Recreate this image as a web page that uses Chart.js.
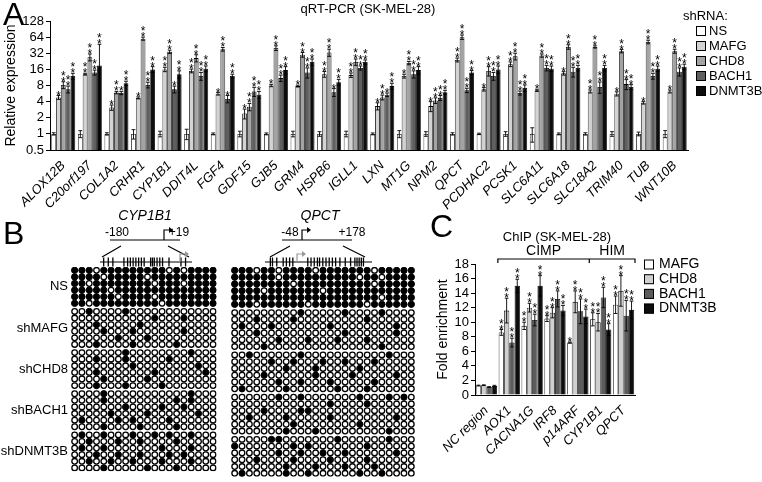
<!DOCTYPE html>
<html><head><meta charset="utf-8">
<script src="https://cdn.jsdelivr.net/npm/chart.js@4.4.1/dist/chart.umd.min.js"></script>
<style>
html,body{margin:0;padding:0;background:#fff;}
#wrap{position:relative;width:762px;height:482px;overflow:hidden;background:#fff;}
canvas{position:absolute;}
.pl{position:absolute;font-family:"Liberation Sans",Arial,sans-serif;font-size:32px;line-height:1;color:#000;}
</style></head><body>
<div id="wrap">
<canvas id="cA" style="left:0;top:0;" width="762" height="212"></canvas>
<canvas id="cB1" style="left:0;top:205px;" width="222" height="277"></canvas>
<canvas id="cB2" style="left:222px;top:205px;" width="200" height="277"></canvas>
<canvas id="cC" style="left:380px;top:205px;" width="382" height="277"></canvas>
<div class="pl" style="left:3px;top:-2px;">A</div>
<div class="pl" style="left:3px;top:217px;">B</div>
<div class="pl" style="left:430px;top:210px;">C</div>
</div>
<script>
const FONT = "'Liberation Sans', Arial, Helvetica, sans-serif";
Chart.defaults.font.family = FONT;
Chart.defaults.color = '#000';
Chart.defaults.animation = false;

// ---------- Panel A data ----------
const genes = ['ALOX12B','C20orf197','COL1A2','CRHR1','CYP1B1','DDIT4L','FGF4','GDF15','GJB5','GRM4','HSPB6','IGLL1','LXN','MT1G','NPM2','QPCT','PCDHAC2','PCSK1','SLC6A11','SLC6A18','SLC18A2','TRIM40','TUB','WNT10B'];
const seriesA = ['NS','MAFG','CHD8','BACH1','DNMT3B'];
const yTicksA = [0.5,1,2,4,8,16,32,64,128];
const nsExpr   = [1,1,1,1,1,1,1,1,1,1,1,1,1,1,1,1,1,1,1,1,1,1,1,1];
const nsErr    = [0.05,0.15,0.05,0.2,0.12,0.22,0.04,0.12,0.04,0.12,0.1,0.12,0.04,0.15,0.1,0.05,0.03,0.1,0.3,0.04,0.05,0.1,0.08,0.15];
const mafgExpr = [4.8,13,3.1,4.7,16,15,5.6,2.4,8,7.8,13,12.5,3.3,12,3.3,24,6.8,20,6.5,13.5,6.2,5.6,3.8,6.2];
const mafgErr  = [0.4,0.5,0.35,0.2,1.5,1.2,0.3,0.5,0.4,0.3,1.6,1.2,0.5,1,0.7,2,0.5,2,0.3,1,0.4,0.5,0.2,0.4];
const chd8Expr = [8.2,27,5.9,60,34,26,38,3.2,40,30,33,22,4.8,21,4.2,64,15,28,29,42,42,35,52,35];
const chd8Err  = [1.2,4,0.3,4,2.5,4,3,0.5,4,3,5,3,0.5,1.5,0.5,6,3,4,2,4,2,2.5,4,3];
const bach1Expr= [6.8,14,5.8,8.2,6.8,12,4.5,6.2,11,14,6,17,5.4,13,4.7,6.5,12,5.8,17,14.5,7.5,8.5,12,14.5];
const bach1Err = [1,1.5,0.4,1,1,2,0.7,1.2,1.5,3,1,1.5,0.4,2,0.5,0.6,2,0.5,2,3,1.8,1.8,1.5,2.5];
const dnmtExpr = [12,19,8.8,16,13,16.5,12,5.4,15.5,22,9.2,22,7.8,15.5,6,14,16,7.2,16.5,17,17,7.5,16.5,18];
const dnmtErr  = [1.5,28,0.8,2,2,2,1,0.8,2.5,3,1.2,2,1,2.5,0.5,1.2,2.5,1,2,2,2,0.8,2,2];
const nsStars   = [0,0,0,0,0,0,0,0,0,0,0,0,0,0,0,0,0,0,0,0,0,0,0,0];
const mafgStars = [1,2,1,1,2,2,1,1,1,1,2,2,1,1,1,2,1,2,1,1,2,1,1,1];
const chd8Stars = [2,2,2,2,2,2,2,2,2,2,2,2,2,2,2,2,2,2,2,2,2,2,2,2];
const bach1Stars= [2,2,1,2,1,2,1,2,2,2,1,2,1,2,2,2,2,2,2,2,2,2,2,2];
const dnmtStars = [2,2,2,2,2,2,2,2,2,2,2,2,2,2,2,2,2,2,2,2,2,2,2,2];

// ---------- Panel B data (bisulfite sequencing) ----------
const bGroups = ['NS','shMAFG','shCHD8','shBACH1','shDNMT3B'];
const cypCpGCount = 20, qpctCpGCount = 25;
// NS rows list UNmethylated CpG indices; sh rows list METHYLATED CpG indices
const cypNSUnmeth  = [[3,13,15],[4,10],[2,11,15],[5],[6,11],[2,12]];
const cypMAFGMeth  = [[2,7],[11,15],[3,9],[4,8,15],[6,10],[3,8,14]];
const cypCHD8Meth  = [[7,16],[3,7,13],[8,17],[3,11,18],[4,10],[3,7,12]];
const cypBACH1Meth = [[4,16],[4,14,16],[7,12,15],[5,10,17],[1,6,8,13],[4,9,14]];
const cypDNMTMeth  = [[1,4,8,11,13,16],[2,6,9,14],[1,4,12,16],[3,6,9,13,15],[2,5,8,12,16],[4,10,14]];
const qpctNSUnmeth  = [[3,6,11,19],[6,17,20],[8,19],[4,12],[20],[3,10,18]];
const qpctMAFGMeth  = [[9,15,20],[3,8,18],[1,5,13,22],[3,15,22],[6,10,14,18],[4,20]];
const qpctCHD8Meth  = [[2,9,21],[5,8,12,15,19],[7,11,17],[4,11,16,22],[6,9,13,19],[1,7,14,18]];
const qpctBACH1Meth = [[6,9,17,21,23],[13,18],[4,9,10],[2,7,13,22],[8,17],[7,11,21]];
const qpctDNMTMeth  = [[5,6,14,21],[0,8,10,18],[6,9,12,15,22],[3,8,13,18],[7,11,15,19],[1,7,10,17,20]];
const cypCpGPos  = [0.04,0.09,0.14,0.26,0.30,0.33,0.36,0.39,0.42,0.45,0.48,0.55,0.57,0.59,0.62,0.65,0.68,0.75,0.88,0.93];
const qpctCpGPos = [0.05,0.07,0.11,0.17,0.20,0.23,0.26,0.40,0.43,0.46,0.49,0.51,0.54,0.57,0.60,0.63,0.66,0.70,0.75,0.80,0.84,0.86,0.88,0.90,0.92];

// ---------- Panel C data ----------
const chipSites = ['NC region','AOX1','CACNA1G','IRF8','p14ARF','CYP1B1','QPCT'];
const seriesC = ['MAFG','CHD8','BACH1','DNMT3B'];
const chipMafg   = [1.3,8.6,9.5,10.5,7.2,10.4,12.4];
const chipMafgErr= [0.05,0.4,0.5,0.4,0.08,0.9,1.2];
const chipChd8   = [1.35,11.6,12,11.3,12.8,10,14.3];
const chipChd8Err= [0.05,1.7,0.6,0.7,1.5,1.2,2.1];
const chipBach1  = [1.1,7.2,10.3,13.2,11.5,13.4,10.9];
const chipBach1Err=[0.05,0.6,0.8,1.1,1.7,1.4,2.1];
const chipDnmt   = [1.25,15,15,11.6,10.8,9,11.7];
const chipDnmtErr= [0.08,0.9,1.4,0.7,1.0,0.8,1.2];
const chipMafgStars = [0,2,2,2,1,2,2];
const chipChd8Stars = [0,2,2,2,2,2,2];
const chipBach1Stars= [0,2,2,2,2,2,2];
const chipDnmtStars = [0,2,2,2,2,2,2];

// ---------- helpers ----------
function errPlugin(id, errs, stars, cfg) {
  return {
    id,
    afterDatasetsDraw(chart) {
      const ctx = chart.ctx, ys = chart.scales.y;
      ctx.save();
      ctx.strokeStyle = '#000'; ctx.lineWidth = cfg.lw;
      chart.data.datasets.forEach((ds, i) => {
        chart.getDatasetMeta(i).data.forEach((bar, j) => {
          const v = ds.data[j], e = errs[i][j];
          const yt = ys.getPixelForValue(v + e);
          const yb = ys.getPixelForValue(Math.max(v - e, ys.min));
          const cw = bar.width * cfg.cap;
          ctx.beginPath();
          ctx.moveTo(bar.x, yt); ctx.lineTo(bar.x, yb);
          ctx.moveTo(bar.x - cw/2, yt); ctx.lineTo(bar.x + cw/2, yt);
          ctx.moveTo(bar.x - cw/2, yb); ctx.lineTo(bar.x + cw/2, yb);
          ctx.stroke();
          const n = stars[i][j];
          ctx.fillStyle = '#000'; ctx.font = cfg.starFont; ctx.textAlign = 'center'; ctx.textBaseline = 'alphabetic';
          for (let k = 0; k < n; k++) ctx.fillText('*', bar.x, yt + cfg.starOff - k * cfg.starStep);
        });
      });
      ctx.restore();
    }
  };
}

// ---------- Chart A ----------
const colorsA = ['#ffffff','#d3d3d3','#a3a3a3','#5f5f5f','#0d0d0d'];
const valsA = [nsExpr, mafgExpr, chd8Expr, bach1Expr, dnmtExpr];
new Chart(document.getElementById('cA'), {
  type: 'bar',
  data: {
    labels: genes,
    datasets: seriesA.map((s, i) => ({
      label: s, data: valsA[i], backgroundColor: colorsA[i], borderColor: '#000', borderWidth: 0.8,
      categoryPercentage: 0.9, barPercentage: 1.0
    }))
  },
  options: {
    responsive: false, devicePixelRatio: 1, events: [],
    layout: { padding: { left: 3, top: 21, right: 74, bottom: 0 } },
    plugins: { legend: { display: false }, tooltip: { enabled: false } },
    scales: {
      x: {
        grid: { display: false }, border: { color: '#000', width: 1 },
        ticks: { autoSkip: false, maxRotation: 45, minRotation: 45, padding: 0, font: { size: 13, style: 'italic' } },
        afterFit: s => { s.height = 62; }
      },
      y: {
        type: 'logarithmic', min: 0.5, max: 128,
        afterBuildTicks: s => { s.ticks = yTicksA.map(v => ({ value: v })); },
        ticks: { autoSkip: false, callback: v => String(v), font: { size: 13 }, padding: 2 },
        grid: { drawOnChartArea: false, drawTicks: true, tickLength: 4, color: '#000' },
        border: { color: '#000', width: 1 },
        title: { display: true, text: 'Relative expression', font: { size: 14 }, padding: 0 },
        afterFit: s => { s.width = 47; }
      }
    }
  },
  plugins: [
    errPlugin('errA', [nsErr, mafgErr, chd8Err, bach1Err, dnmtErr], [nsStars, mafgStars, chd8Stars, bach1Stars, dnmtStars],
      { lw: 0.9, cap: 0.8, starFont: '12px ' + FONT, starOff: 4, starStep: 6 }),
    {
      id: 'decoA',
      afterDraw(chart) {
        const ctx = chart.ctx;
        ctx.save();
        ctx.fillStyle = '#000'; ctx.textBaseline = 'middle';
        ctx.font = '13px ' + FONT; ctx.textAlign = 'center';
        ctx.fillText('qRT-PCR (SK-MEL-28)', 368, 9);
        ctx.font = '13px ' + FONT; ctx.textAlign = 'left';
        ctx.fillText('shRNA:', 683, 16);
        chart.data.datasets.forEach((ds, i) => {
          const y = 31 + 15 * i;
          ctx.fillStyle = ds.backgroundColor; ctx.fillRect(696, y - 5, 10, 10);
          ctx.strokeStyle = '#000'; ctx.lineWidth = 1; ctx.strokeRect(696.5, y - 4.5, 9, 9);
          ctx.fillStyle = '#000'; ctx.fillText(ds.label, 709, y);
        });
        ctx.restore();
      }
    }
  ]
});

// ---------- Chart B ----------
const GROUP_STEP = 6.23;
function buildDots(nsUnmeth, shMeth, nCols) {
  const meth = [], unmeth = [];
  const groups = [nsUnmeth].concat(shMeth);
  groups.forEach((rows, g) => {
    rows.forEach((list, r) => {
      for (let c = 0; c < nCols; c++) {
        const isM = g === 0 ? !list.includes(c) : list.includes(c);
        (isM ? meth : unmeth).push({ x: c, y: g * GROUP_STEP + r });
      }
    });
  });
  return { meth, unmeth };
}
function schematicPlugin(cfg) {
  return {
    id: 'schem' + cfg.name,
    afterDraw(chart) {
      const ctx = chart.ctx;
      ctx.save();
      ctx.fillStyle = '#000'; ctx.strokeStyle = '#000';
      ctx.font = 'italic 14px ' + FONT; ctx.textAlign = 'center'; ctx.textBaseline = 'middle';
      ctx.fillText(cfg.name, cfg.nameX, 11);
      ctx.font = '12px ' + FONT;
      ctx.fillText(cfg.leftLbl, cfg.leftLblX, 28);
      ctx.fillText(cfg.rightLbl, cfg.rightLblX, 28);
      ctx.lineWidth = 1.2;
      ctx.beginPath();
      ctx.moveTo(cfg.lineL, 35); ctx.lineTo(cfg.lineR, 35);
      ctx.moveTo(cfg.arrowX, 35); ctx.lineTo(cfg.arrowX, 25); ctx.lineTo(cfg.arrowX + 6, 25);
      ctx.moveTo(cfg.diagL[0], 41); ctx.lineTo(cfg.diagL[1], 52);
      ctx.moveTo(cfg.diagR[0], 41); ctx.lineTo(cfg.diagR[1], 52);
      ctx.moveTo(cfg.cpgL, 57); ctx.lineTo(cfg.cpgR, 57);
      ctx.stroke();
      ctx.beginPath(); ctx.moveTo(cfg.arrowX + 9, 25); ctx.lineTo(cfg.arrowX + 5, 22); ctx.lineTo(cfg.arrowX + 5, 28); ctx.closePath(); ctx.fill();
      ctx.lineWidth = 1.3;
      ctx.beginPath();
      cfg.cpg.forEach(f => { const x = cfg.cpgL + f * (cfg.cpgR - cfg.cpgL); ctx.moveTo(x, 52.5); ctx.lineTo(x, 61.5); });
      ctx.stroke();
      ctx.strokeStyle = '#999'; ctx.fillStyle = '#999'; ctx.lineWidth = 1.2;
      ctx.beginPath(); ctx.moveTo(cfg.grayX, 57); ctx.lineTo(cfg.grayX, 49); ctx.lineTo(cfg.grayX + 6, 49); ctx.stroke();
      ctx.beginPath(); ctx.moveTo(cfg.grayX + 9, 49); ctx.lineTo(cfg.grayX + 5, 46); ctx.lineTo(cfg.grayX + 5, 52); ctx.closePath(); ctx.fill();
      ctx.restore();
    }
  };
}
function makeB(id, dots, nCols, showLabels, pad, schem) {
  new Chart(document.getElementById(id), {
    type: 'scatter',
    data: { datasets: [
      { data: dots.meth, pointRadius: 3.15, pointBackgroundColor: '#000', pointBorderColor: '#000', pointBorderWidth: 1 },
      { data: dots.unmeth, pointRadius: 2.8, pointBackgroundColor: '#fff', pointBorderColor: '#000', pointBorderWidth: 1.3 }
    ]},
    options: {
      responsive: false, devicePixelRatio: 1, events: [],
      layout: { padding: pad },
      plugins: { legend: { display: false }, tooltip: { enabled: false } },
      scales: {
        x: { type: 'linear', min: -0.5, max: nCols - 0.5, display: false },
        y: {
          type: 'linear', reverse: true, min: -0.5, max: 4 * GROUP_STEP + 5.5, display: showLabels,
          afterBuildTicks: s => { s.ticks = bGroups.map((g, i) => ({ value: i * GROUP_STEP + 2.5 })); },
          ticks: { autoSkip: false, callback: (v, i) => bGroups[i], font: { size: 13 }, padding: 3 },
          grid: { display: false, drawTicks: false }, border: { display: false },
          afterFit: s => { if (showLabels) s.width = 71; }
        }
      }
    },
    plugins: [schematicPlugin(schem)]
  });
}
makeB('cB1', buildDots(cypNSUnmeth, [cypMAFGMeth, cypCHD8Meth, cypBACH1Meth, cypDNMTMeth], cypCpGCount), cypCpGCount, true,
  { left: 0, top: 62, right: 3, bottom: 1 },
  { name: 'CYP1B1', nameX: 145, leftLbl: '-180', leftLblX: 117, rightLbl: '+19', rightLblX: 179, lineL: 110, lineR: 180, arrowX: 164,
    diagL: [121, 102], diagR: [168, 189], cpgL: 100, cpgR: 192, cpg: cypCpGPos, grayX: 180 });
makeB('cB2', buildDots(qpctNSUnmeth, [qpctMAFGMeth, qpctCHD8Meth, qpctBACH1Meth, qpctDNMTMeth], qpctCpGCount), qpctCpGCount, false,
  { left: 9, top: 62, right: 7, bottom: 1 },
  { name: 'QPCT', nameX: 98, leftLbl: '-48', leftLblX: 68, rightLbl: '+178', rightLblX: 130, lineL: 60, lineR: 130, arrowX: 80,
    diagL: [68, 48], diagR: [121, 143], cpgL: 43, cpgR: 150, cpg: qpctCpGPos, grayX: 75 });

// ---------- Chart C ----------
const colorsC = ['#ffffff','#cfcfcf','#5c5c5c','#0d0d0d'];
const valsC = [chipMafg, chipChd8, chipBach1, chipDnmt];
new Chart(document.getElementById('cC'), {
  type: 'bar',
  data: {
    labels: chipSites,
    datasets: seriesC.map((s, i) => ({
      label: s, data: valsC[i], backgroundColor: colorsC[i], borderColor: '#000', borderWidth: 0.8,
      categoryPercentage: 0.93, barPercentage: 1.0
    }))
  },
  options: {
    responsive: false, devicePixelRatio: 1, events: [],
    layout: { padding: { left: 55, top: 59, right: 127, bottom: 0 } },
    plugins: { legend: { display: false }, tooltip: { enabled: false } },
    scales: {
      x: {
        grid: { display: false }, border: { color: '#000', width: 1 },
        ticks: { autoSkip: false, maxRotation: 45, minRotation: 45, padding: 0, font: { size: 13, style: 'italic' } },
        afterFit: s => { s.height = 87; }
      },
      y: {
        min: 0, max: 18,
        ticks: { autoSkip: false, stepSize: 2, font: { size: 13 }, padding: 2 },
        grid: { drawOnChartArea: false, drawTicks: true, tickLength: 4, color: '#000' },
        border: { color: '#000', width: 1 },
        title: { display: true, text: 'Fold enrichment', font: { size: 14 }, padding: 0 },
        afterFit: s => { s.width = 40; }
      }
    }
  },
  plugins: [
    errPlugin('errC', [chipMafgErr, chipChd8Err, chipBach1Err, chipDnmtErr], [chipMafgStars, chipChd8Stars, chipBach1Stars, chipDnmtStars],
      { lw: 0.9, cap: 0.7, starFont: '12px ' + FONT, starOff: 4, starStep: 6 }),
    {
      id: 'decoC',
      afterDraw(chart) {
        const ctx = chart.ctx, ca = chart.chartArea;
        const cw = (ca.right - ca.left) / chipSites.length;
        const b0 = ca.left + cw * 1, b1 = ca.left + cw * 5, b2 = ca.right;
        ctx.save();
        ctx.strokeStyle = '#000'; ctx.lineWidth = 1.2;
        ctx.beginPath();
        ctx.moveTo(b0, ca.top - 1); ctx.lineTo(b0, ca.top - 5); ctx.lineTo(b2, ca.top - 5); ctx.lineTo(b2, ca.top - 1);
        ctx.moveTo(b1, ca.top - 5); ctx.lineTo(b1, ca.top - 1);
        ctx.stroke();
        ctx.fillStyle = '#000'; ctx.textAlign = 'center'; ctx.textBaseline = 'middle';
        ctx.font = '14px ' + FONT;
        ctx.fillText('CIMP', (b0 + b1) / 2, ca.top - 13);
        ctx.fillText('HIM', (b1 + b2) / 2, ca.top - 13);
        ctx.font = '13px ' + FONT;
        ctx.fillText('ChIP (SK-MEL-28)', (ca.left + ca.right) / 2 + 2, 32);
        ctx.textAlign = 'left'; ctx.font = '14px ' + FONT;
        chart.data.datasets.forEach((ds, i) => {
          const y = ca.top + 0.5 + 14.7 * i;
          ctx.fillStyle = ds.backgroundColor; ctx.fillRect(264, y - 5, 10, 10);
          ctx.strokeStyle = '#000'; ctx.lineWidth = 1; ctx.strokeRect(264.5, y - 4.5, 9, 9);
          ctx.fillStyle = '#000'; ctx.fillText(ds.label, 279, y);
        });
        ctx.restore();
      }
    }
  ]
});
</script>
</body></html>
